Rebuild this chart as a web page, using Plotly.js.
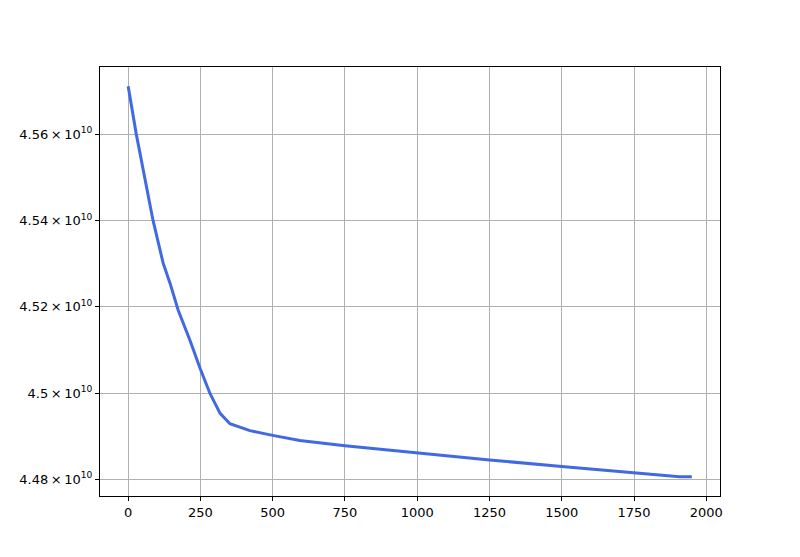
<!DOCTYPE html>
<html>
<head>
<meta charset="utf-8">
<script src="https://cdn.plot.ly/plotly-3.0.1.min.js"></script>
<style>html,body{margin:0;padding:0;background:#fff}</style>
</head>
<body>
<div id="chart" style="width:800px;height:557px"></div>
<script>
const xVals = [0, 28, 86, 121, 145, 173, 214, 249, 283, 318, 352, 421, 500, 594, 750, 1000, 1250, 1500, 1750, 1907, 1950];
const yVals = [4.5711e10, 4.5600e10, 4.5400e10, 4.5301e10, 4.5254e10, 4.5192e10, 4.5122e10, 4.5057e10, 4.4999e10, 4.4953e10, 4.4929e10, 4.4913e10, 4.4902e10, 4.4890e10, 4.4878e10, 4.4861e10, 4.4845e10, 4.4830e10, 4.4816e10, 4.4806e10, 4.4806e10];
const xTicks = [0, 250, 500, 750, 1000, 1250, 1500, 1750, 2000];
const yTickVals = [4.48e10, 4.50e10, 4.52e10, 4.54e10, 4.56e10];
const yTickText = ['4.48\u2009×\u200910<sup>10</sup>', '4.5\u2009×\u200910<sup>10</sup>', '4.52\u2009×\u200910<sup>10</sup>', '4.54\u2009×\u200910<sup>10</sup>', '4.56\u2009×\u200910<sup>10</sup>'];

const trace = {
  x: xVals, y: yVals, type: 'scatter', mode: 'lines',
  line: {color: '#4169E1', width: 3}, hoverinfo: 'none'
};
const axisCommon = {
  showline: true, linecolor: '#000', linewidth: 1, mirror: true,
  ticks: 'outside', ticklen: 4, tickwidth: 1, tickcolor: '#000',
  showgrid: true, gridcolor: '#b0b0b0', gridwidth: 1, zeroline: false,
  tickfont: {family: 'DejaVu Sans', size: 13, color: '#000'}
};
const layout = {
  width: 800, height: 557,
  margin: {l: 100, r: 80, t: 67, b: 61},
  paper_bgcolor: '#fff', plot_bgcolor: '#fff',
  showlegend: false,
  xaxis: Object.assign({}, axisCommon, {range: [-97.5, 2047.5], tickvals: xTicks, ticktext: xTicks.map(String)}),
  yaxis: Object.assign({}, axisCommon, {range: [4.47615e10, 4.57555e10], tickvals: yTickVals, ticktext: yTickText})
};
Plotly.newPlot('chart', [trace], layout, {staticPlot: true});
</script>
</body>
</html>
